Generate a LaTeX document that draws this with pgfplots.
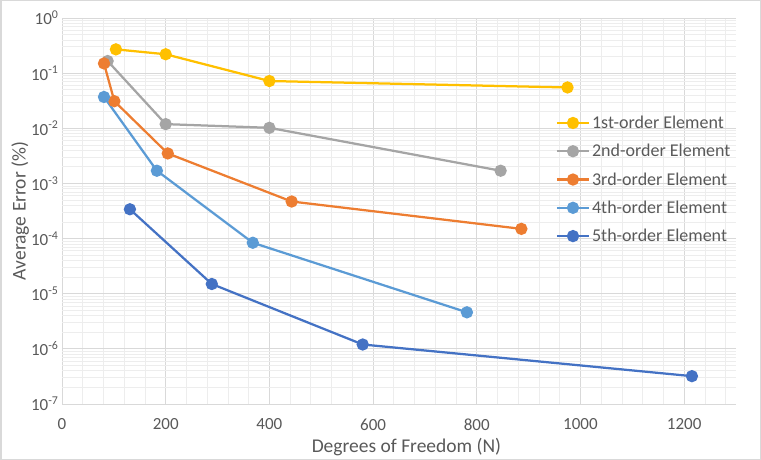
\documentclass[border=0pt]{standalone}
\usepackage{fontspec}
\setmainfont{Carlito}
\usepackage{pgfplots}
\pgfplotsset{compat=1.18}
\definecolor{c1}{HTML}{FFC000}
\definecolor{c2}{HTML}{A5A5A5}
\definecolor{c3}{HTML}{ED7D31}
\definecolor{c4}{HTML}{5B9BD5}
\definecolor{c5}{HTML}{4472C4}
\definecolor{gridmaj}{HTML}{D9D9D9}
\definecolor{gridmin}{HTML}{EDEDED}
\definecolor{txt}{HTML}{595959}
\definecolor{frame}{HTML}{D9D9D9}
\begin{document}
\begin{tikzpicture}
\path[use as bounding box] (0,0) rectangle (761bp,460bp);
\draw[frame, line width=1.5bp] (0.75bp,0.75bp) rectangle (760.25bp,459.25bp);
\begin{axis}[
    at={(62bp,56bp)}, anchor=south west,
    scale only axis, width=674bp, height=386bp,
    ymode=log,
    xmin=0, xmax=1300, ymin=1e-7, ymax=1,
    xtick={0,200,...,1200},
    minor xtick={0,40,...,1280},
    ytick={1e-7,1e-6,1e-5,1e-4,1e-3,1e-2,1e-1,1},
    yticklabels={10\textsuperscript{-7},10\textsuperscript{-6},10\textsuperscript{-5},10\textsuperscript{-4},10\textsuperscript{-3},10\textsuperscript{-2},10\textsuperscript{-1},10\textsuperscript{0}},
    minor ytick={2e-7,3e-7,4e-7,5e-7,6e-7,7e-7,8e-7,9e-7,
                 2e-6,3e-6,4e-6,5e-6,6e-6,7e-6,8e-6,9e-6,
                 2e-5,3e-5,4e-5,5e-5,6e-5,7e-5,8e-5,9e-5,
                 2e-4,3e-4,4e-4,5e-4,6e-4,7e-4,8e-4,9e-4,
                 2e-3,3e-3,4e-3,5e-3,6e-3,7e-3,8e-3,9e-3,
                 2e-2,3e-2,4e-2,5e-2,6e-2,7e-2,8e-2,9e-2,
                 0.2,0.3,0.4,0.5,0.6,0.7,0.8,0.9},
    grid=both,
    major grid style={gridmaj, line width=0.75bp},
    minor grid style={gridmin, line width=0.75bp},
    axis line style={draw=none},
    tick style={draw=none},
    /pgf/number format/assume math mode=true,
    /pgf/number format/1000 sep={},
    tick label style={font=\fontsize{17bp}{20bp}\selectfont, text=txt},
    xticklabel style={yshift=-11bp},
    xlabel={Degrees of Freedom (N)},
    ylabel={Average Error (\%)},
    label style={font=\fontsize{19.5bp}{23bp}\selectfont, text=txt},
    xlabel style={at={(axis description cs:0.511,-0.111)}, anchor=center},
    ylabel style={at={(axis description cs:-0.062,0.5)}, anchor=center},
    every axis plot/.append style={line width=2.25bp, mark=*, mark size=5bp},
    legend image code/.code={\draw[mark repeat=2, mark phase=2, #1] plot coordinates {(0bp,0bp) (16bp,0bp) (32bp,0bp)};},
    legend cell align=left,
    legend style={at={(0.728,0.757)}, anchor=north west, draw=none, fill=none,
        font=\fontsize{18bp}{21bp}\selectfont, text=txt, row sep=10.3bp},
]
\addplot[c1, mark options={fill=c1}] coordinates {(104,0.27) (200,0.22) (400,0.072) (975,0.055)};
\addlegendentry{1st-order Element}
\addplot[c2, mark options={fill=c2}] coordinates {(88,0.166) (200,0.0119) (400,0.0102) (846,0.0017)};
\addlegendentry{2nd-order Element}
\addplot[c3, mark options={fill=c3}] coordinates {(81,0.15) (101,0.031) (204,0.0035) (443,0.00047) (886,0.00015)};
\addlegendentry{3rd-order Element}
\addplot[c4, mark options={fill=c4}] coordinates {(81,0.037) (183,0.0017) (368,0.000084) (781,0.0000046)};
\addlegendentry{4th-order Element}
\addplot[c5, mark options={fill=c5}] coordinates {(131,0.00034) (289,0.000015) (580,0.0000012) (1215,0.00000032)};
\addlegendentry{5th-order Element}
\end{axis}
\end{tikzpicture}
\end{document}
